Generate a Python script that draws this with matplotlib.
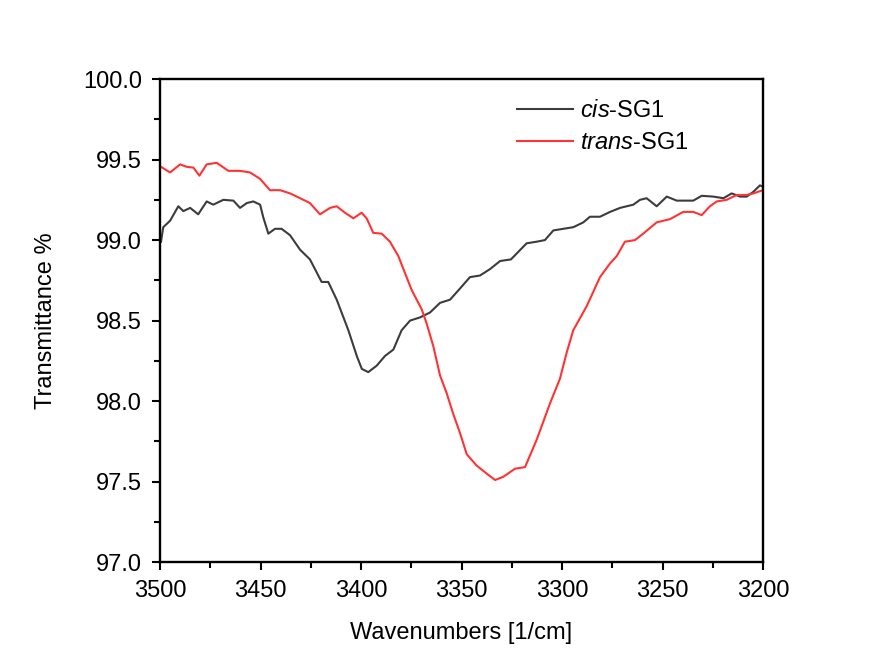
import matplotlib
matplotlib.use("Agg")
import matplotlib.pyplot as plt
from matplotlib.ticker import MultipleLocator, FormatStrFormatter

plt.rcParams['font.family'] = ['Liberation Sans', 'DejaVu Sans']
plt.rcParams['mathtext.fontset'] = 'custom'
plt.rcParams['mathtext.it'] = 'Liberation Sans:italic'
plt.rcParams['mathtext.rm'] = 'Liberation Sans'

# cis-SG1 spectrum (wavenumber, transmittance %)
cis_wn = [3499.5, 3498.4, 3495.0, 3490.9, 3488.4, 3485.0, 3481.0, 3476.8, 3473.5,
          3468.5, 3463.5, 3460.2, 3456.8, 3453.6, 3450.2, 3448.6, 3446.1, 3442.8,
          3439.5, 3435.3, 3430.3, 3425.4, 3419.6, 3416.3, 3412.1, 3406.3, 3402.1,
          3399.6, 3396.4, 3392.2, 3388.1, 3383.9, 3379.8, 3375.6, 3370.6, 3365.7,
          3360.7, 3355.7, 3350.7, 3345.8, 3340.8, 3335.8, 3330.8, 3325.4, 3317.6,
          3312.6, 3308.5, 3304.3, 3299.4, 3294.4, 3289.4, 3286.1, 3281.1, 3276.1,
          3271.1, 3264.5, 3261.2, 3257.9, 3252.9, 3247.9, 3242.9, 3234.7, 3230.5,
          3224.7, 3219.7, 3215.6, 3211.4, 3208.1, 3204.8, 3201.5, 3200.0]
cis_t = [98.99, 99.08, 99.12, 99.21, 99.18, 99.20, 99.16, 99.24, 99.22,
         99.25, 99.245, 99.20, 99.23, 99.24, 99.22, 99.14, 99.04, 99.07,
         99.07, 99.03, 98.94, 98.88, 98.74, 98.74, 98.63, 98.44, 98.28,
         98.20, 98.18, 98.22, 98.28, 98.32, 98.44, 98.50, 98.52, 98.55,
         98.61, 98.63, 98.70, 98.77, 98.78, 98.82, 98.87, 98.88, 98.98,
         98.99, 99.00, 99.06, 99.07, 99.08, 99.11, 99.145, 99.145, 99.175,
         99.20, 99.22, 99.25, 99.26, 99.21, 99.27, 99.245, 99.245, 99.275,
         99.27, 99.26, 99.29, 99.27, 99.27, 99.30, 99.34, 99.33]

# trans-SG1 spectrum (wavenumber, transmittance %)
trans_wn = [3499.5, 3495.0, 3490.0, 3486.7, 3483.4, 3480.4, 3476.8, 3471.8, 3466.0,
            3460.2, 3455.2, 3450.2, 3445.3, 3440.3, 3435.3, 3430.3, 3425.4, 3420.4,
            3415.4, 3412.1, 3408.0, 3403.8, 3399.7, 3397.2, 3393.9, 3389.7, 3385.6,
            3381.4, 3378.9, 3374.8, 3369.8, 3367.3, 3364.0, 3360.7, 3357.4, 3354.1,
            3350.7, 3347.4, 3342.5, 3337.5, 3333.3, 3329.2, 3323.4, 3318.4, 3312.6,
            3306.0, 3301.0, 3297.7, 3294.4, 3287.7, 3281.1, 3276.1, 3272.8, 3268.7,
            3263.7, 3259.6, 3252.9, 3246.3, 3239.7, 3234.7, 3230.5, 3226.4, 3223.0,
            3218.1, 3213.1, 3208.1, 3204.8, 3200.0]
trans_t = [99.455, 99.42, 99.47, 99.455, 99.45, 99.40, 99.47, 99.48, 99.43,
           99.43, 99.42, 99.38, 99.31, 99.31, 99.29, 99.26, 99.23, 99.16,
           99.20, 99.21, 99.17, 99.135, 99.17, 99.135, 99.045, 99.04, 98.99,
           98.90, 98.82, 98.69, 98.57, 98.48, 98.34, 98.16, 98.05, 97.92,
           97.80, 97.67, 97.60, 97.55, 97.51, 97.53, 97.58, 97.59, 97.76,
           97.985, 98.14, 98.30, 98.44, 98.59, 98.77, 98.855, 98.90, 98.99,
           99.00, 99.04, 99.11, 99.13, 99.175, 99.175, 99.155, 99.21, 99.24,
           99.25, 99.28, 99.28, 99.29, 99.31]

series_labels = [r'$\it{cis}$-SG1', r'$\it{trans}$-SG1']

fig = plt.figure(figsize=(8.73, 6.70), dpi=100)
ax = fig.add_axes([0.1833, 0.161, 0.6907, 0.721])

ax.plot(cis_wn, cis_t, color='#3c3c3c', lw=1.5, label=series_labels[0])
ax.plot(trans_wn, trans_t, color='#ff3333', lw=1.5, label=series_labels[1])

ax.set_xlim(3500, 3200)
ax.set_ylim(97.0, 100.0)
ax.xaxis.set_major_locator(MultipleLocator(50))
ax.xaxis.set_minor_locator(MultipleLocator(25))
ax.yaxis.set_major_locator(MultipleLocator(0.5))
ax.yaxis.set_minor_locator(MultipleLocator(0.25))
ax.yaxis.set_major_formatter(FormatStrFormatter('%.1f'))

ax.tick_params(which='major', direction='out', length=6, width=1.5,
               labelsize=17, pad=7)
ax.tick_params(which='minor', direction='out', length=4, width=1.5)
ax.tick_params(top=False, right=False, which='both')
for s in ax.spines.values():
    s.set_linewidth(1.7)

ax.set_xlabel('Wavenumbers [1/cm]', fontsize=17, labelpad=14)
ax.set_ylabel('Transmittance %', fontsize=17, labelpad=19)

ax.legend(loc='upper left', bbox_to_anchor=(0.556, 1.0), frameon=False,
          fontsize=17, handlelength=2.4, handletextpad=0.3, labelspacing=0.42)

fig.savefig('out.png', dpi=100, facecolor='white')
